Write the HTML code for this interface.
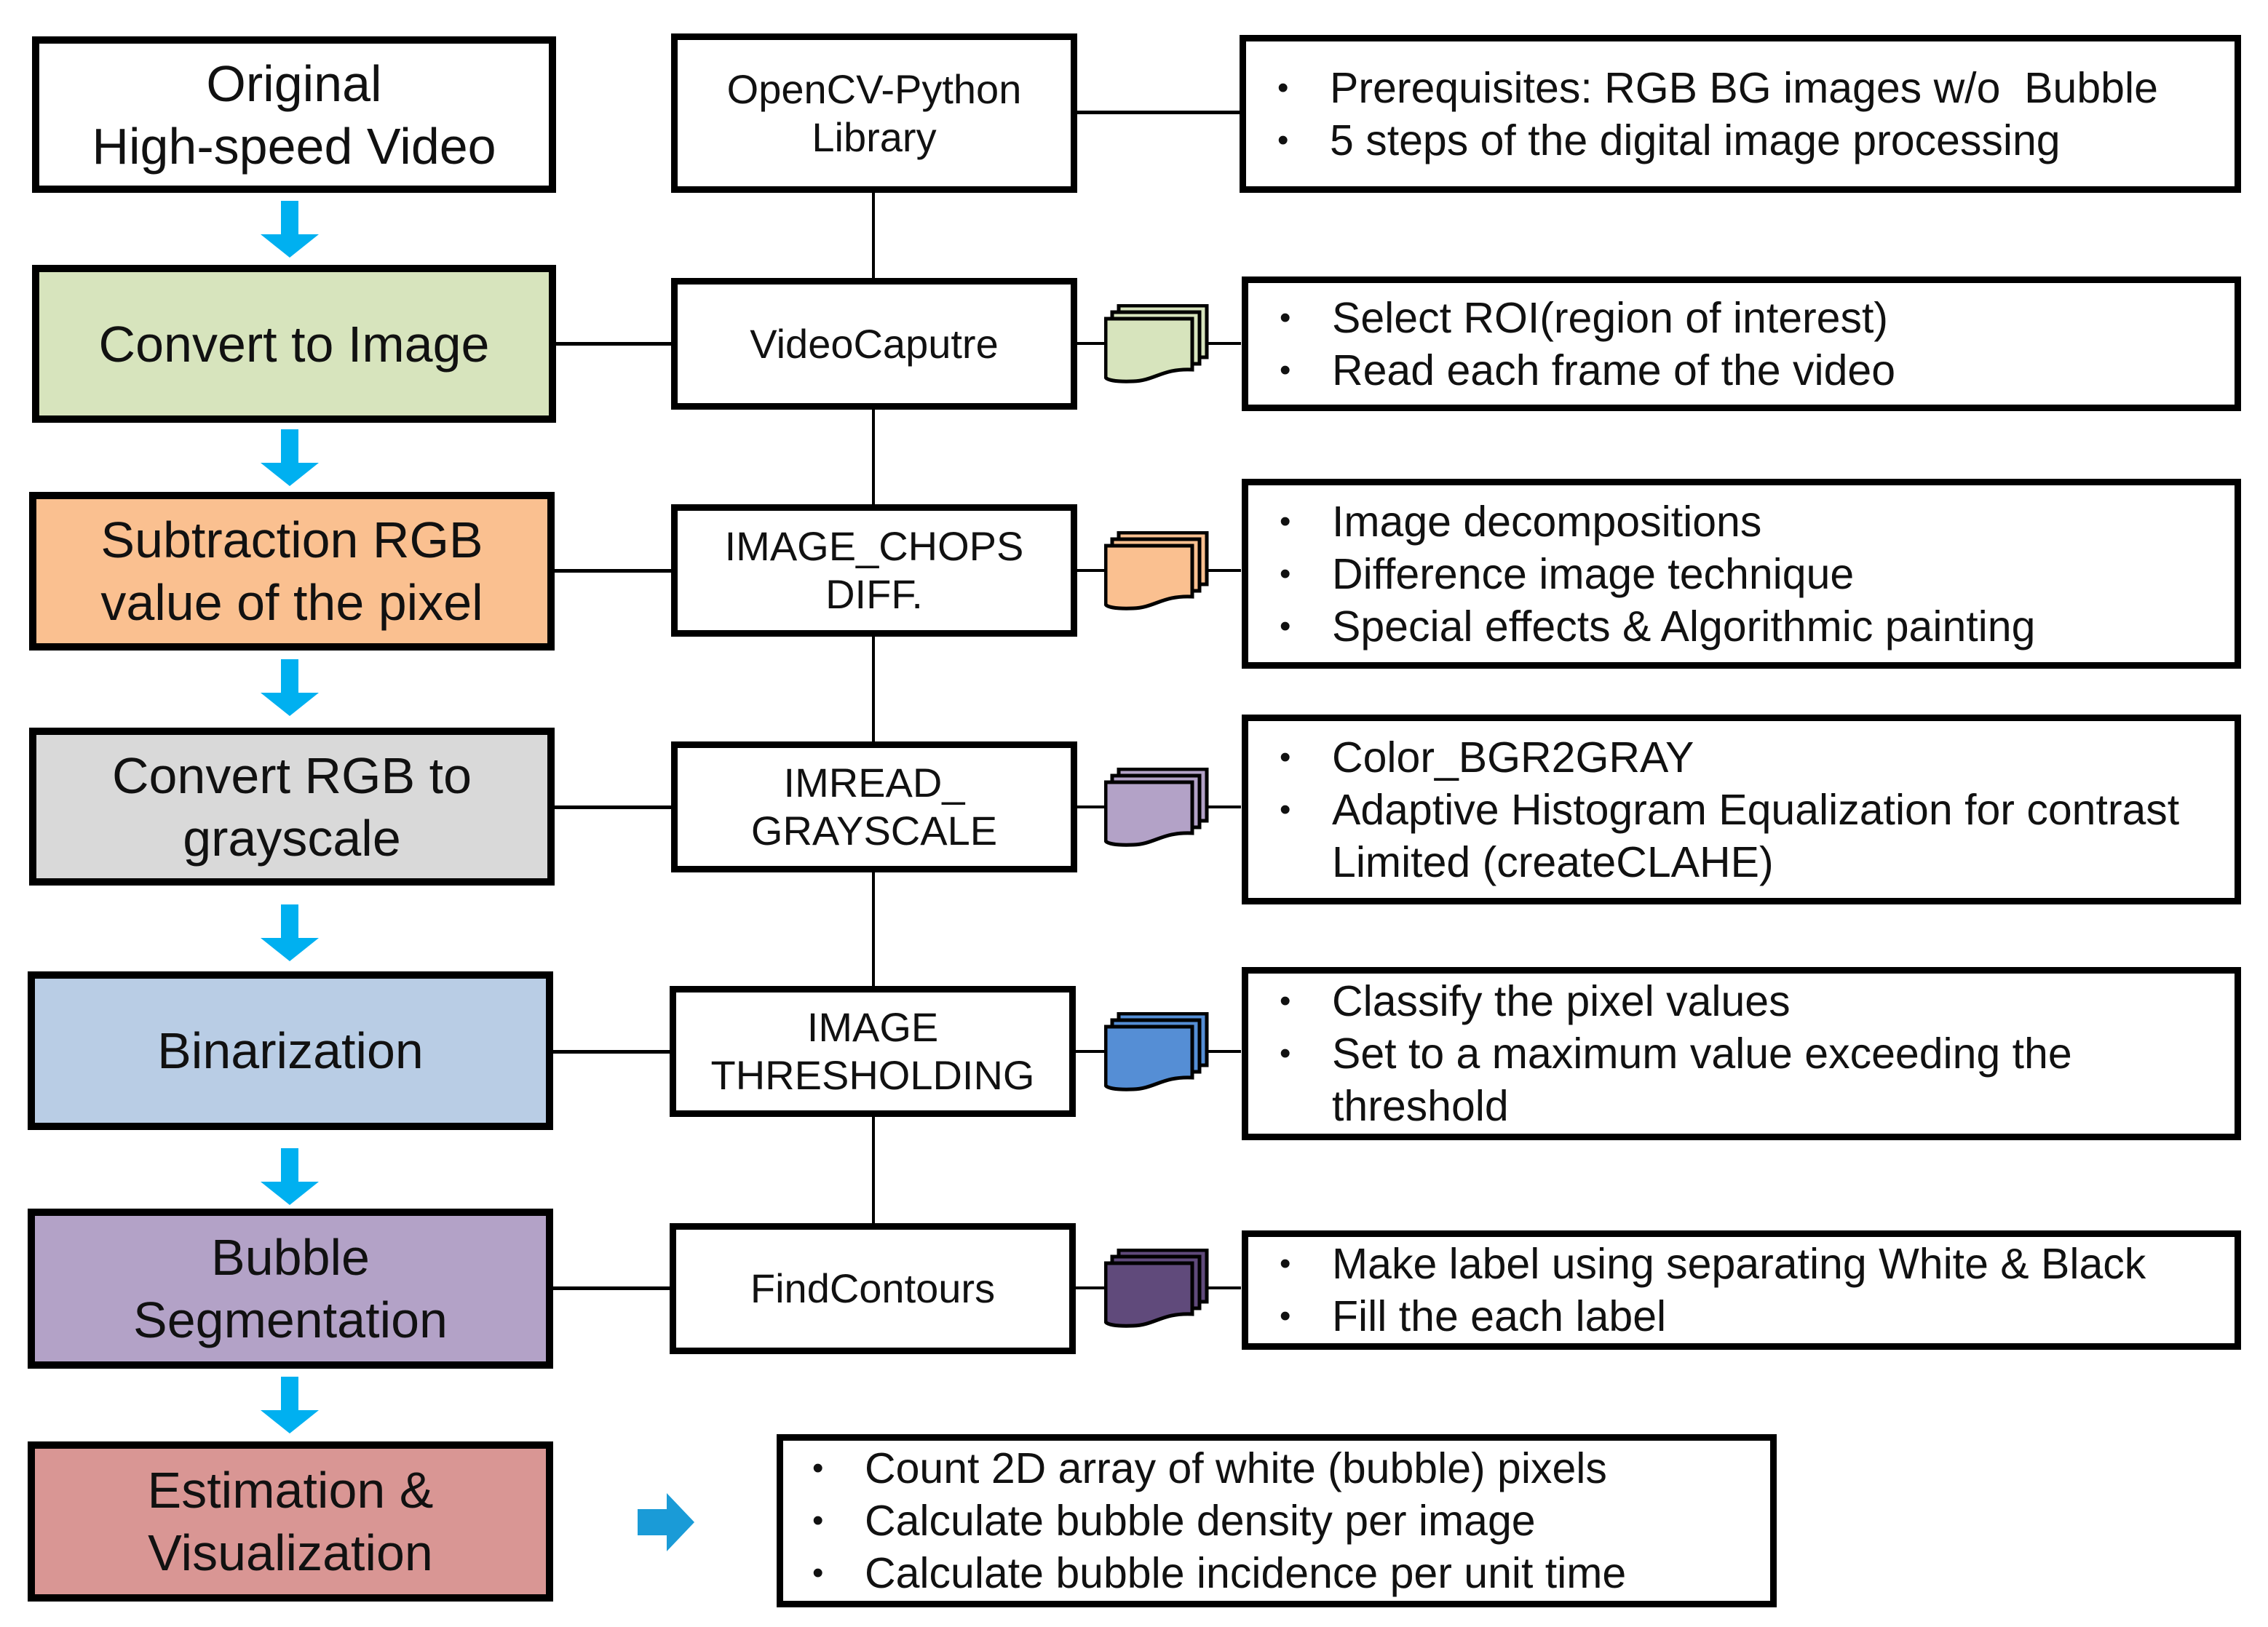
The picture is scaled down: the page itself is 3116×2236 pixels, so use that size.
<!DOCTYPE html>
<html><head><meta charset="utf-8"><style>
body{margin:0;width:3116px;height:2236px;background:#fff;position:relative;overflow:hidden;font-family:"Liberation Sans",Arial,sans-serif;}
.b{position:absolute;box-sizing:border-box;border:10px solid #000;display:flex;align-items:center;justify-content:center;text-align:center;color:#111;}
.L{font-size:70px;line-height:86px;}
.M{font-size:56px;line-height:66px;border-width:9px;}
.R{font-size:59px;line-height:72px;justify-content:flex-start;text-align:left;border-width:9px;}
.R ul{margin:0;padding:0 0 0 115px;list-style:none;}
.R li{position:relative;}
.R li:before{content:"•";position:absolute;left:-72px;font-size:44px;}
.ln{position:absolute;background:#000;}
svg{position:absolute;}
</style></head><body>
<div class="ln" style="left:1198px;top:264px;width:4px;height:1420px"></div>

<div class="b L" style="left:44px;top:50px;width:720px;height:215px;background:#fff">Original<br>High-speed Video</div>
<div class="b L" style="left:44px;top:364px;width:720px;height:217px;background:#d7e4bd">Convert to Image</div>
<div class="b L" style="left:40px;top:676px;width:722px;height:218px;background:#fac090">Subtraction RGB<br>value of the pixel</div>
<div class="b L" style="left:40px;top:1000px;width:722px;height:217px;background:#d9d9d9">Convert RGB to<br>grayscale</div>
<div class="b L" style="left:38px;top:1335px;width:722px;height:218px;background:#b9cde5">Binarization</div>
<div class="b L" style="left:38px;top:1661px;width:722px;height:220px;background:#b3a2c7">Bubble<br>Segmentation</div>
<div class="b L" style="left:38px;top:1981px;width:722px;height:220px;background:#d99694">Estimation &amp;<br>Visualization</div>

<div class="ln" style="left:764px;top:470px;width:160px;height:5px"></div>
<div class="ln" style="left:762px;top:782px;width:162px;height:5px"></div>
<div class="ln" style="left:762px;top:1107px;width:162px;height:5px"></div>
<div class="ln" style="left:760px;top:1443px;width:162px;height:5px"></div>
<div class="ln" style="left:760px;top:1768px;width:162px;height:5px"></div>

<div class="b M" style="left:922px;top:46px;width:558px;height:219px;background:#fff">OpenCV-Python<br>Library</div>
<div class="b M" style="left:922px;top:382px;width:558px;height:181px;background:#fff">VideoCaputre</div>
<div class="b M" style="left:922px;top:693px;width:558px;height:182px;background:#fff">IMAGE_CHOPS<br>DIFF.</div>
<div class="b M" style="left:922px;top:1019px;width:558px;height:180px;background:#fff">IMREAD_<br>GRAYSCALE</div>
<div class="b M" style="left:920px;top:1355px;width:558px;height:180px;background:#fff">IMAGE<br>THRESHOLDING</div>
<div class="b M" style="left:920px;top:1681px;width:558px;height:180px;background:#fff">FindContours</div>

<div class="ln" style="left:1480px;top:152px;width:225px;height:5px"></div>
<div class="ln" style="left:1480px;top:470px;width:225px;height:4px"></div>
<div class="ln" style="left:1480px;top:782px;width:225px;height:4px"></div>
<div class="ln" style="left:1480px;top:1107px;width:225px;height:4px"></div>
<div class="ln" style="left:1478px;top:1443px;width:227px;height:4px"></div>
<div class="ln" style="left:1478px;top:1768px;width:227px;height:4px"></div>

<svg width="0" height="0"><defs><g id="f">
<rect x="20" y="2" width="121" height="71" stroke="#000" stroke-width="5"/>
<rect x="11" y="11" width="120" height="71" stroke="#000" stroke-width="5"/>
<path d="M2 20 H121 V90 C80 88 70 105 40 106 C15 107 2 104 2 100 Z" stroke="#000" stroke-width="5"/>
</g></defs></svg>
<svg style="left:1517px;top:418px" width="145" height="110"><use href="#f" fill="#d7e4bd"/></svg>
<svg style="left:1517px;top:730px" width="145" height="110"><use href="#f" fill="#fac090"/></svg>
<svg style="left:1517px;top:1055px" width="145" height="110"><use href="#f" fill="#b3a2c7"/></svg>
<svg style="left:1517px;top:1391px" width="145" height="110"><use href="#f" fill="#558ed5"/></svg>
<svg style="left:1517px;top:1716px" width="145" height="110"><use href="#f" fill="#604a7b"/></svg>

<div class="b R" style="left:1703px;top:48px;width:1376px;height:217px;background:#fff"><ul><li>Prerequisites: RGB BG images w/o&nbsp; Bubble</li><li>5 steps of the digital image processing</li></ul></div>
<div class="b R" style="left:1706px;top:380px;width:1373px;height:185px;background:#fff"><ul><li>Select ROI(region of interest)</li><li>Read each frame of the video</li></ul></div>
<div class="b R" style="left:1706px;top:658px;width:1373px;height:261px;background:#fff"><ul><li>Image decompositions</li><li>Difference image technique</li><li>Special effects &amp; Algorithmic painting</li></ul></div>
<div class="b R" style="left:1706px;top:982px;width:1373px;height:261px;background:#fff"><ul><li>Color_BGR2GRAY</li><li>Adaptive Histogram Equalization for contrast<br>Limited (createCLAHE)</li></ul></div>
<div class="b R" style="left:1706px;top:1329px;width:1373px;height:238px;background:#fff"><ul><li>Classify the pixel values</li><li>Set to a maximum value exceeding the<br>threshold</li></ul></div>
<div class="b R" style="left:1706px;top:1691px;width:1373px;height:164px;background:#fff"><ul><li>Make label using separating White &amp; Black</li><li>Fill the each label</li></ul></div>
<div class="b R" style="left:1067px;top:1971px;width:1374px;height:238px;background:#fff"><ul style="padding-left:112px"><li>Count 2D array of white (bubble) pixels</li><li>Calculate bubble density per image</li><li>Calculate bubble incidence per unit time</li></ul></div>

<svg style="left:358px;top:276px" width="80" height="78"><path d="M28 0H52V46H80L40 78L0 46H28Z" fill="#00b0f0"/></svg>
<svg style="left:358px;top:590px" width="80" height="78"><path d="M28 0H52V46H80L40 78L0 46H28Z" fill="#00b0f0"/></svg>
<svg style="left:358px;top:906px" width="80" height="78"><path d="M28 0H52V46H80L40 78L0 46H28Z" fill="#00b0f0"/></svg>
<svg style="left:358px;top:1243px" width="80" height="78"><path d="M28 0H52V46H80L40 78L0 46H28Z" fill="#00b0f0"/></svg>
<svg style="left:358px;top:1578px" width="80" height="78"><path d="M28 0H52V46H80L40 78L0 46H28Z" fill="#00b0f0"/></svg>
<svg style="left:358px;top:1892px" width="80" height="78"><path d="M28 0H52V46H80L40 78L0 46H28Z" fill="#00b0f0"/></svg>
<svg style="left:876px;top:2052px" width="80" height="80"><path d="M0 22H40V0L78 40L40 80V58H0Z" fill="#1a9bd7"/></svg>
</body></html>
